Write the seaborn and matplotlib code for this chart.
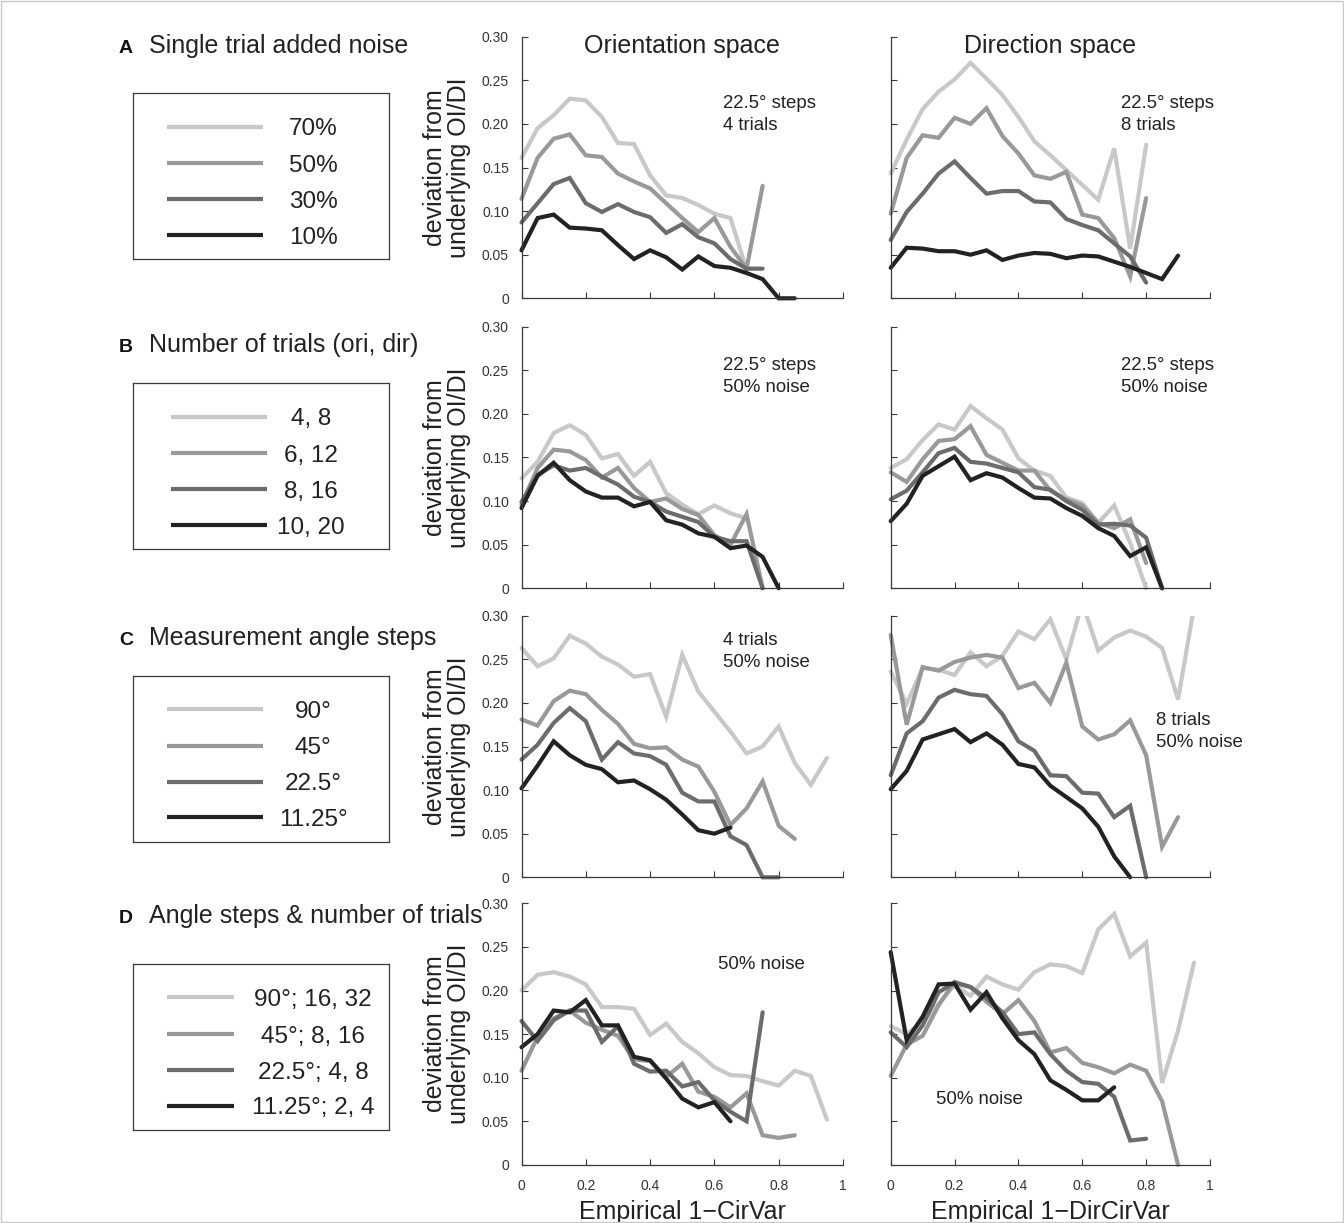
import numpy as np
import pandas as pd
import matplotlib
matplotlib.use("Agg")
import matplotlib.pyplot as plt
from matplotlib.patches import Rectangle
import seaborn as sns

# ---------------- data ----------------
X_BINS = [0.00, 0.05, 0.10, 0.15, 0.20, 0.25, 0.30, 0.35, 0.40, 0.45,
          0.50, 0.55, 0.60, 0.65, 0.70, 0.75, 0.80, 0.85, 0.90, 0.95]

# A: single trial added noise (70%, 50%, 30%, 10%)
A_LABELS = ["70%", "50%", "30%", "10%"]
A_ORI_70 = [0.161, 0.195, 0.210, 0.229, 0.227, 0.208, 0.178, 0.177, 0.141, 0.118, 0.115, 0.107, 0.097, 0.092, 0.033]
A_ORI_50 = [0.114, 0.161, 0.183, 0.188, 0.164, 0.162, 0.143, 0.134, 0.126, 0.109, 0.092, 0.076, 0.092, 0.059, 0.034, 0.129]
A_ORI_30 = [0.087, 0.109, 0.131, 0.138, 0.109, 0.099, 0.108, 0.099, 0.093, 0.075, 0.085, 0.070, 0.063, 0.045, 0.034, 0.034]
A_ORI_10 = [0.055, 0.092, 0.096, 0.081, 0.080, 0.078, 0.061, 0.045, 0.055, 0.047, 0.033, 0.048, 0.037, 0.035, 0.029, 0.022, 0.0, 0.0]
A_DIR_70 = [0.143, 0.182, 0.217, 0.237, 0.251, 0.270, 0.252, 0.233, 0.208, 0.180, 0.164, 0.147, 0.130, 0.113, 0.172, 0.057, 0.176]
A_DIR_50 = [0.097, 0.161, 0.187, 0.184, 0.207, 0.200, 0.218, 0.186, 0.166, 0.141, 0.137, 0.145, 0.096, 0.092, 0.069, 0.025, 0.115]
A_DIR_30 = [0.067, 0.099, 0.120, 0.143, 0.157, 0.138, 0.120, 0.123, 0.123, 0.111, 0.110, 0.091, 0.084, 0.078, 0.063, 0.048, 0.018]
A_DIR_10 = [0.035, 0.058, 0.057, 0.054, 0.054, 0.050, 0.055, 0.044, 0.049, 0.052, 0.051, 0.046, 0.049, 0.048, 0.042, 0.036, 0.029, 0.022, 0.049]

# B: number of trials (ori, dir)
B_LABELS = ["4, 8", "6, 12", "8, 16", "10, 20"]
B_ORI_4 = [0.126, 0.145, 0.178, 0.187, 0.176, 0.149, 0.154, 0.129, 0.145, 0.109, 0.096, 0.085, 0.095, 0.086, 0.080]
B_ORI_6 = [0.096, 0.138, 0.159, 0.157, 0.147, 0.127, 0.138, 0.115, 0.099, 0.103, 0.091, 0.084, 0.061, 0.050, 0.085, 0.0]
B_ORI_8 = [0.099, 0.130, 0.141, 0.135, 0.138, 0.128, 0.119, 0.105, 0.099, 0.088, 0.082, 0.076, 0.059, 0.054, 0.054, 0.0]
B_ORI_10 = [0.092, 0.129, 0.144, 0.124, 0.111, 0.104, 0.104, 0.094, 0.099, 0.078, 0.073, 0.063, 0.059, 0.046, 0.049, 0.036, 0.0]
B_DIR_4 = [0.138, 0.148, 0.170, 0.188, 0.182, 0.209, 0.195, 0.182, 0.149, 0.135, 0.129, 0.104, 0.098, 0.075, 0.095, 0.052, 0.0]
B_DIR_6 = [0.133, 0.122, 0.148, 0.169, 0.171, 0.186, 0.153, 0.144, 0.135, 0.135, 0.112, 0.102, 0.095, 0.075, 0.069, 0.079, 0.029]
B_DIR_8 = [0.102, 0.112, 0.133, 0.155, 0.161, 0.145, 0.143, 0.138, 0.133, 0.116, 0.113, 0.100, 0.090, 0.073, 0.074, 0.072, 0.058, 0.0]
B_DIR_10 = [0.077, 0.097, 0.129, 0.140, 0.151, 0.124, 0.132, 0.127, 0.115, 0.104, 0.103, 0.092, 0.083, 0.069, 0.060, 0.037, 0.047, 0.0]

# C: measurement angle steps
C_LABELS = ["90°", "45°", "22.5°", "11.25°"]
C_ORI_90 = [0.263, 0.242, 0.251, 0.277, 0.268, 0.253, 0.244, 0.230, 0.233, 0.184, 0.255, 0.213, 0.190, 0.167, 0.142, 0.150, 0.173, 0.131, 0.106, 0.137]
C_ORI_45 = [0.181, 0.174, 0.202, 0.214, 0.210, 0.192, 0.176, 0.153, 0.148, 0.149, 0.135, 0.127, 0.098, 0.060, 0.079, 0.110, 0.059, 0.044]
C_ORI_22 = [0.135, 0.152, 0.177, 0.194, 0.179, 0.135, 0.155, 0.142, 0.139, 0.129, 0.097, 0.087, 0.087, 0.047, 0.037, 0.0, 0.0]
C_ORI_11 = [0.102, 0.128, 0.156, 0.140, 0.129, 0.124, 0.109, 0.111, 0.101, 0.089, 0.072, 0.054, 0.050, 0.057]
C_DIR_90 = [0.236, 0.199, 0.240, 0.238, 0.232, 0.258, 0.242, 0.254, 0.282, 0.273, 0.296, 0.250, 0.315, 0.260, 0.275, 0.283, 0.276, 0.263, 0.204, 0.310]
C_DIR_45 = [0.278, 0.175, 0.241, 0.237, 0.247, 0.252, 0.255, 0.252, 0.217, 0.223, 0.200, 0.246, 0.173, 0.158, 0.164, 0.180, 0.140, 0.035, 0.069]
C_DIR_22 = [0.117, 0.165, 0.179, 0.206, 0.215, 0.210, 0.208, 0.187, 0.156, 0.145, 0.117, 0.116, 0.097, 0.096, 0.069, 0.082, 0.0]
C_DIR_11 = [0.101, 0.122, 0.158, 0.164, 0.170, 0.155, 0.165, 0.152, 0.130, 0.126, 0.105, 0.092, 0.079, 0.058, 0.024, 0.0]

# D: angle steps & number of trials
D_LABELS = ["90°; 16, 32", "45°; 8, 16", "22.5°; 4, 8", "11.25°; 2, 4"]
D_ORI_90 = [0.200, 0.218, 0.221, 0.216, 0.207, 0.181, 0.181, 0.179, 0.149, 0.162, 0.141, 0.128, 0.112, 0.103, 0.102, 0.096, 0.091, 0.108, 0.102, 0.052]
D_ORI_45 = [0.108, 0.147, 0.168, 0.177, 0.163, 0.155, 0.148, 0.121, 0.119, 0.101, 0.116, 0.084, 0.078, 0.066, 0.082, 0.034, 0.031, 0.034]
D_ORI_22 = [0.165, 0.142, 0.166, 0.177, 0.177, 0.141, 0.159, 0.116, 0.107, 0.108, 0.090, 0.095, 0.074, 0.061, 0.050, 0.175]
D_ORI_11 = [0.135, 0.150, 0.177, 0.175, 0.189, 0.160, 0.160, 0.124, 0.120, 0.099, 0.076, 0.066, 0.072, 0.050]
D_DIR_90 = [0.159, 0.150, 0.164, 0.185, 0.206, 0.194, 0.216, 0.207, 0.201, 0.221, 0.230, 0.228, 0.220, 0.270, 0.288, 0.239, 0.255, 0.094, 0.154, 0.232]
D_DIR_45 = [0.102, 0.138, 0.148, 0.183, 0.210, 0.204, 0.187, 0.173, 0.189, 0.165, 0.129, 0.134, 0.117, 0.112, 0.105, 0.115, 0.108, 0.073, 0.0]
D_DIR_22 = [0.152, 0.135, 0.160, 0.198, 0.209, 0.204, 0.191, 0.175, 0.150, 0.152, 0.127, 0.108, 0.095, 0.093, 0.078, 0.028, 0.030]
D_DIR_11 = [0.244, 0.143, 0.170, 0.207, 0.208, 0.178, 0.198, 0.168, 0.143, 0.127, 0.097, 0.086, 0.074, 0.074, 0.089]

Y_TICKS = [0, 0.05, 0.10, 0.15, 0.20, 0.25, 0.30]
Y_TICKLABELS = ["0", "0.05", "0.10", "0.15", "0.20", "0.25", "0.30"]
X_TICKS = [0, 0.2, 0.4, 0.6, 0.8, 1.0]
X_TICKLABELS = ["0", "0.2", "0.4", "0.6", "0.8", "1"]

PANELS = [
    ("A", "Single trial added noise", A_LABELS,
     [A_ORI_70, A_ORI_50, A_ORI_30, A_ORI_10], [A_DIR_70, A_DIR_50, A_DIR_30, A_DIR_10],
     ["22.5° steps", "4 trials"], ["22.5° steps", "8 trials"]),
    ("B", "Number of trials (ori, dir)", B_LABELS,
     [B_ORI_4, B_ORI_6, B_ORI_8, B_ORI_10], [B_DIR_4, B_DIR_6, B_DIR_8, B_DIR_10],
     ["22.5° steps", "50% noise"], ["22.5° steps", "50% noise"]),
    ("C", "Measurement angle steps", C_LABELS,
     [C_ORI_90, C_ORI_45, C_ORI_22, C_ORI_11], [C_DIR_90, C_DIR_45, C_DIR_22, C_DIR_11],
     ["4 trials", "50% noise"], ["8 trials", "50% noise"]),
    ("D", "Angle steps & number of trials", D_LABELS,
     [D_ORI_90, D_ORI_45, D_ORI_22, D_ORI_11], [D_DIR_90, D_DIR_45, D_DIR_22, D_DIR_11],
     ["50% noise"], ["50% noise"]),
]

# note anchor positions (data coords: x, first baseline y)
NOTE_POS_ORI = [(0.626, 0.218), (0.626, 0.250), (0.626, 0.266), (0.612, 0.225)]
NOTE_POS_DIR = [(0.720, 0.218), (0.720, 0.250), (0.831, 0.175), (0.142, 0.070)]

# ---------------- style ----------------
sns.set_style("ticks")
plt.rcParams["font.family"] = ["Liberation Sans", "DejaVu Sans"]
plt.rcParams["axes.unicode_minus"] = True

COLORS = ["#c8c8c8", "#999999", "#6c6c6c", "#222222"]
SPINE_C = "#3a3a3a"
LW = 3.0

W, H = 1344, 1223
fig = plt.figure(figsize=(W / 100, H / 100), dpi=100)

def fx(px):
    return px / W

def fy(px):
    return 1 - px / H

AX_LEFT = [521.5, 890.7]
AX_W = [321.5, 319.3]
ROW_TOP = [36.7, 326.7, 615.7, 903.3]
AX_H = 261.6
LEG_TOP = [93.3, 383.3, 675.7, 964.0]
LEG_H = 166.0
TITLE_BASE = [53.3, 351.7, 645.0, 923.0]
LEG_LINE_X = [(0.134, 0.508), (0.148, 0.522), (0.134, 0.508), (0.134, 0.396)]
LEG_TEXT_X = [0.703, 0.695, 0.703, 0.703]
LEG_ROWS = [0.799, 0.578, 0.361, 0.146]

for r, (letter, title, labels, ori, dirs, note_o, note_d) in enumerate(PANELS):
    top = ROW_TOP[r]
    # title
    fig.text(fx(119), fy(TITLE_BASE[r]), letter, fontsize=14, fontweight="bold",
             va="baseline", ha="left", color="#111111")
    fig.text(fx(149), fy(TITLE_BASE[r]), title, fontsize=18, va="baseline",
             ha="left", color="#222222")

    # legend box
    lax = fig.add_axes([fx(132.7), fy(LEG_TOP[r] + LEG_H), fx(256.6), LEG_H / H])
    lax.set_xlim(0, 1)
    lax.set_ylim(0, 1)
    lax.set_xticks([])
    lax.set_yticks([])
    lax.set_facecolor("white")
    for s in lax.spines.values():
        s.set_visible(True)
        s.set_color(SPINE_C)
        s.set_linewidth(0.9)
    x0, x1 = LEG_LINE_X[r]
    for k, lab in enumerate(labels):
        lax.plot([x0, x1], [LEG_ROWS[k]] * 2, color=COLORS[k], lw=LW, solid_capstyle="butt")
        lax.text(LEG_TEXT_X[r], LEG_ROWS[k], lab, fontsize=17.5, ha="center",
                 va="center_baseline", color="#222222")

    for c, series in enumerate([ori, dirs]):
        ax = fig.add_axes([fx(AX_LEFT[c]), fy(top + AX_H), fx(AX_W[c]), AX_H / H])
        rows = []
        for lab, vals in zip(labels, series):
            for xv, yv in zip(X_BINS[:len(vals)], vals):
                rows.append({"x": xv, "y": yv, "series": lab})
        df = pd.DataFrame(rows)
        sns.lineplot(data=df, x="x", y="y", hue="series", hue_order=labels,
                     palette=dict(zip(labels, COLORS)), estimator=None, sort=False,
                     lw=LW, legend=False, ax=ax)
        ax.set_xlim(0, 1)
        ax.set_ylim(0, 0.30)
        for ln in ax.lines:
            ln.set_solid_joinstyle("miter")
            clip = Rectangle((-0.05, -0.03), 1.1, 1.03, transform=ax.transAxes)
            ln.set_clip_path(clip)
        ax.set_xlabel("")
        ax.set_ylabel("")
        ax.set_facecolor("none")
        ax.spines["top"].set_visible(False)
        ax.spines["right"].set_visible(False)
        for s in ["left", "bottom"]:
            ax.spines[s].set_color(SPINE_C)
            ax.spines[s].set_linewidth(0.9)
        ax.set_yticks(Y_TICKS)
        ax.set_xticks(X_TICKS)
        ax.tick_params(direction="in", length=4, width=0.8, color=SPINE_C,
                       labelsize=10, labelcolor="#333333")
        ax.tick_params(axis="y", pad=9)
        ax.tick_params(axis="x", pad=10)
        if c == 0:
            ax.set_yticklabels(Y_TICKLABELS)
        else:
            ax.set_yticklabels([])
        if r == 3:
            ax.set_xticklabels(X_TICKLABELS)
            ax.set_xlabel("Empirical 1\u2212CirVar" if c == 0 else "Empirical 1\u2212DirCirVar",
                          fontsize=18, labelpad=5, color="#222222")
        else:
            ax.set_xticklabels([])
        if r == 0:
            ax.text(0.5, 0.937, "Orientation space" if c == 0 else "Direction space",
                    transform=ax.transAxes, ha="center", va="baseline", fontsize=18,
                    color="#222222")
        notes = note_o if c == 0 else note_d
        nx, ny = (NOTE_POS_ORI if c == 0 else NOTE_POS_DIR)[r]
        for k, t in enumerate(notes):
            ax.text(nx, ny - 0.0252 * k, t, fontsize=13.4, ha="left", va="baseline",
                    color="#222222")
        if c == 0:
            fig.text(fx(447), fy(top + AX_H / 2), "deviation from\nunderlying OI/DI",
                     rotation=90, ha="center", va="center", fontsize=18,
                     linespacing=1.05, multialignment="center", color="#222222")

fig.patches.append(Rectangle((0.0008, 0.0008), 0.9984, 0.9984, transform=fig.transFigure,
                             fill=False, ec="#c8c8c8", lw=1.0))

fig.savefig("out.png", dpi=100)
